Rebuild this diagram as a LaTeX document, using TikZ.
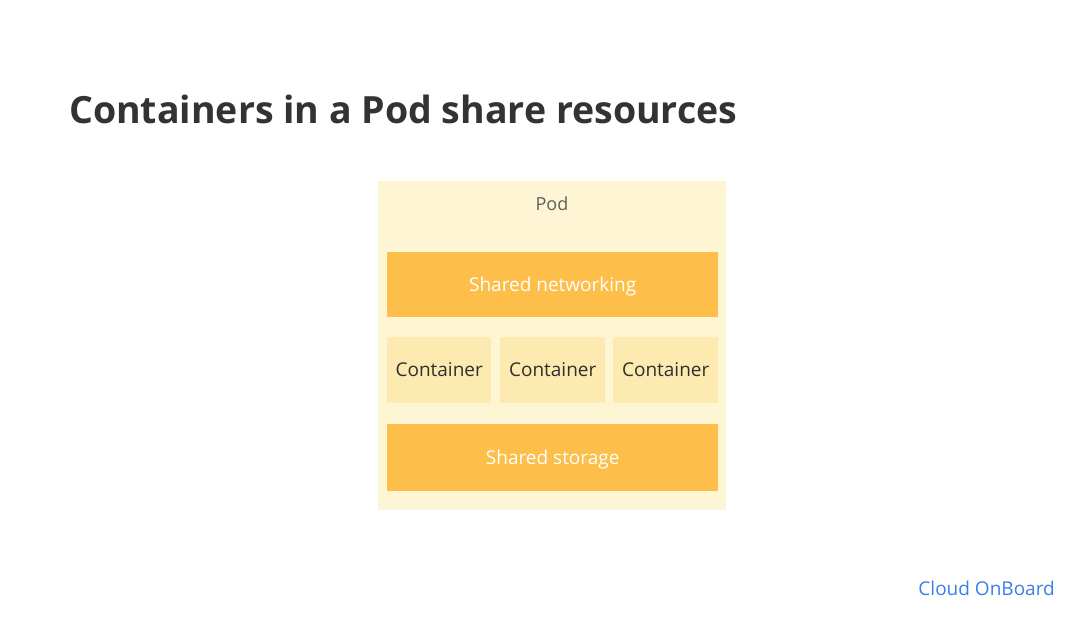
\documentclass[tikz,border=0pt]{standalone}
\usepackage{fontspec}
\setmainfont{Open Sans}
\begin{document}
\begin{tikzpicture}[x=1pt,y=-1pt,
  box/.style={draw=none,anchor=north west,inner sep=0pt},
  podbox/.style={box,fill=podbg},
  sharedbox/.style={box,fill=shared,text=white,font=\fontsize{19}{21}\selectfont,text depth=1pt},
  contbox/.style={box,fill=contbg,text=txtdark,font=\fontsize{19}{21}\selectfont,text depth=1pt},
]
\definecolor{podbg}{HTML}{FEF5D4}
\definecolor{shared}{HTML}{FDBE4A}
\definecolor{contbg}{HTML}{FCEAB0}
\definecolor{txtdark}{HTML}{2F2F2F}
\definecolor{titlec}{HTML}{333333}
\definecolor{podtxt}{HTML}{5F5F5F}
\definecolor{cob}{HTML}{3D7FE8}
\useasboundingbox[fill=white] (0,0) rectangle (1070,626);
\node[anchor=base west,inner sep=0pt,text=titlec,font=\fontsize{37.5}{42}\selectfont\bfseries] (title) at (69,123) {Containers in a Pod share resources};
\node[podbox,minimum width=348pt,minimum height=329pt] (pod) at (378,181) {};
\node[anchor=base,inner sep=0pt,text=podtxt,font=\fontsize{18}{20}\selectfont] (podlabel) at (552,210) {Pod};
\node[sharedbox,minimum width=331pt,minimum height=65pt] (net) at (387,252) {Shared networking};
\node[contbox,minimum width=104pt,minimum height=66pt] (c1) at (387,337) {Container};
\node[contbox,minimum width=105pt,minimum height=66pt] (c2) at (500,337) {Container};
\node[contbox,minimum width=105pt,minimum height=66pt] (c3) at (613,337) {Container};
\node[sharedbox,minimum width=331pt,minimum height=67pt] (sto) at (387,424) {Shared storage};
\node[anchor=base east,inner sep=0pt,text=cob,font=\fontsize{19}{22}\selectfont] (brand) at (1055,595) {Cloud OnBoard};
\end{tikzpicture}
\end{document}
